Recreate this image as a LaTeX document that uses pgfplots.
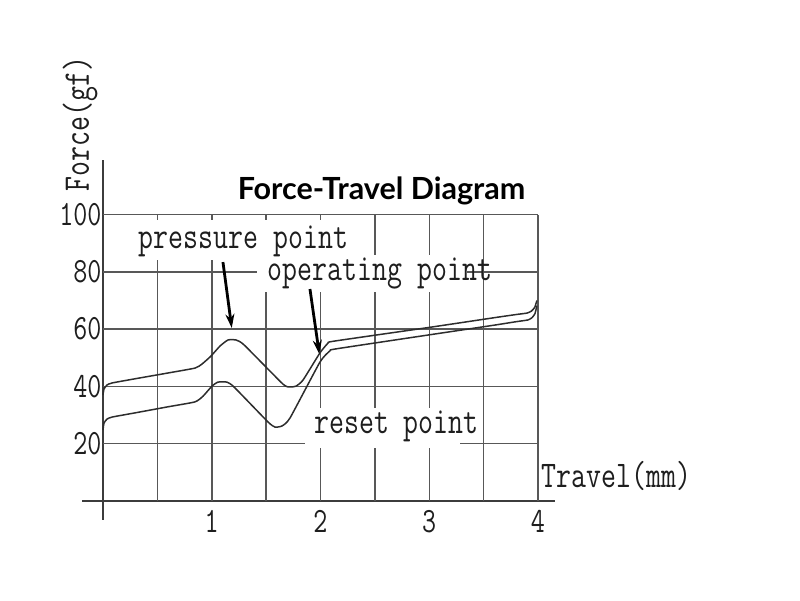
\documentclass[border=0pt]{standalone}
\usepackage{pgfplots}
\pgfplotsset{compat=1.18}
\usepackage{fontspec}
\newfontfamily\lato{Lato}
\usetikzlibrary{arrows.meta}

\definecolor{gridc}{RGB}{88,88,88}
\definecolor{axisc}{RGB}{60,60,60}
\definecolor{curvec}{RGB}{45,45,45}
\definecolor{txtc}{RGB}{30,30,30}

% tall, narrow lettering for labels
\newcommand\tall[1]{\scalebox{1}[1.3]{#1}}
\newcommand\lblfont{\ttfamily\fontsize{29}{34}\selectfont}

% press stroke
\pgfplotstableread{
x y
0.000 37.0
0.009 39.1
0.037 40.5
0.083 41.2
0.300 42.7
0.600 44.7
0.846 46.4
0.910 47.8
0.993 50.6
1.076 54.1
1.149 56.2
1.223 56.2
1.297 54.5
1.655 40.8
1.720 39.8
1.775 40.1
1.839 42.2
1.995 51.7
2.069 55.1
2.124 55.8
3.000 60.6
3.600 64.0
3.800 65.1
3.899 65.6
3.940 66.3
3.970 67.6
3.990 70.0
}\press

% return stroke
\pgfplotstableread{
x y
0.000 24.8
0.009 27.2
0.037 28.6
0.083 29.3
0.300 30.8
0.600 32.9
0.846 34.6
0.920 36.6
1.002 40.1
1.057 41.5
1.140 41.5
1.205 39.8
1.517 27.6
1.582 25.8
1.646 26.2
1.720 29.0
1.995 48.5
2.087 52.4
2.142 53.1
3.000 58.0
3.600 61.4
3.800 62.6
3.908 63.2
3.945 64.0
3.972 65.4
3.990 68.2
}\release

\begin{document}
\begin{tikzpicture}
\path[use as bounding box] (0,0) rectangle (800pt,600pt);
\begin{axis}[
  at={(103pt,99pt)}, anchor=origin,
  scale only axis,
  width=473.06pt, height=359.8pt,
  xmin=-0.19, xmax=4.16,
  ymin=-6.6, ymax=119,
  axis lines=middle,
  every inner x axis line/.append style={-},
  every inner y axis line/.append style={-},
  axis line style={axisc, line width=1.6pt},
  major tick length=0pt,
  xtick={1,2,3,4},
  xticklabels={\tall{1},\tall{2},\tall{3},\tall{4}},
  ytick={20,40,60,80,100},
  yticklabels={\tall{20},\tall{40},\tall{60},\tall{80},\tall{100}},
  tick label style={font=\ttfamily\fontsize{27.3}{30}\selectfont, text=txtc},
  xticklabel style={anchor=north, yshift=-6pt},
  yticklabel style={anchor=east, xshift=2pt},
  clip=false,
]
% grid
\draw[gridc, line width=1.5pt]
  (axis cs:0.5,0) -- (axis cs:0.5,100)
  (axis cs:1,0) -- (axis cs:1,100)
  (axis cs:1.5,0) -- (axis cs:1.5,100)
  (axis cs:2,0) -- (axis cs:2,100)
  (axis cs:2.5,0) -- (axis cs:2.5,100)
  (axis cs:3,0) -- (axis cs:3,100)
  (axis cs:3.5,0) -- (axis cs:3.5,100)
  (axis cs:4,0) -- (axis cs:4,100)
  (axis cs:0,20) -- (axis cs:4,20)
  (axis cs:0,40) -- (axis cs:4,40)
  (axis cs:0,60) -- (axis cs:4,60)
  (axis cs:0,80) -- (axis cs:4,80)
  (axis cs:0,100) -- (axis cs:4,100);
% clear space behind the annotations
\fill[white] (axis cs:0.23,84.1) rectangle (axis cs:2.363,98.1);
\fill[white] (axis cs:1.416,72.9) rectangle (axis cs:3.347,85.9);
\fill[white] (axis cs:1.857,18.5) rectangle (axis cs:3.283,32.5);

\addplot[curvec, line width=1.5pt, smooth, tension=0.3] table[x=x,y=y] {\press};
\addplot[curvec, line width=1.5pt, smooth, tension=0.3] table[x=x,y=y] {\release};

% annotations
\node[anchor=base, text=txtc, font=\lblfont, inner sep=0pt] at (axis cs:1.292,88.3) {\tall{pressure point}};
\node[anchor=base, text=txtc, font=\lblfont, inner sep=0pt] at (axis cs:2.547,77.1) {\tall{operating point}};
\node[anchor=base, text=txtc, font=\lblfont, inner sep=0pt] at (axis cs:2.699,23.4) {\tall{reset point}};

\draw[black, line width=2.8pt, -{Stealth[length=14pt, width=9pt]}] (axis cs:1.103,83.4) -- (axis cs:1.184,60.4);
\draw[black, line width=2.8pt, -{Stealth[length=14pt, width=9pt]}] (axis cs:1.903,74.0) -- (axis cs:1.989,51.3);

% axis titles
\node[text=txtc, font=\lblfont, inner sep=0pt, rotate=90] at (axis cs:-0.21,131.6) {\tall{Force(gf)}};
\node[text=txtc, font=\lblfont, inner sep=0pt] at (axis cs:4.72,8.7) {\tall{Travel(mm)}};

% title
\node[anchor=base, font=\lato\bfseries\fontsize{30.5}{34}\selectfont, inner sep=0pt] at (axis cs:2.561,105.1) {Force-Travel Diagram};
\end{axis}
\end{tikzpicture}
\end{document}
